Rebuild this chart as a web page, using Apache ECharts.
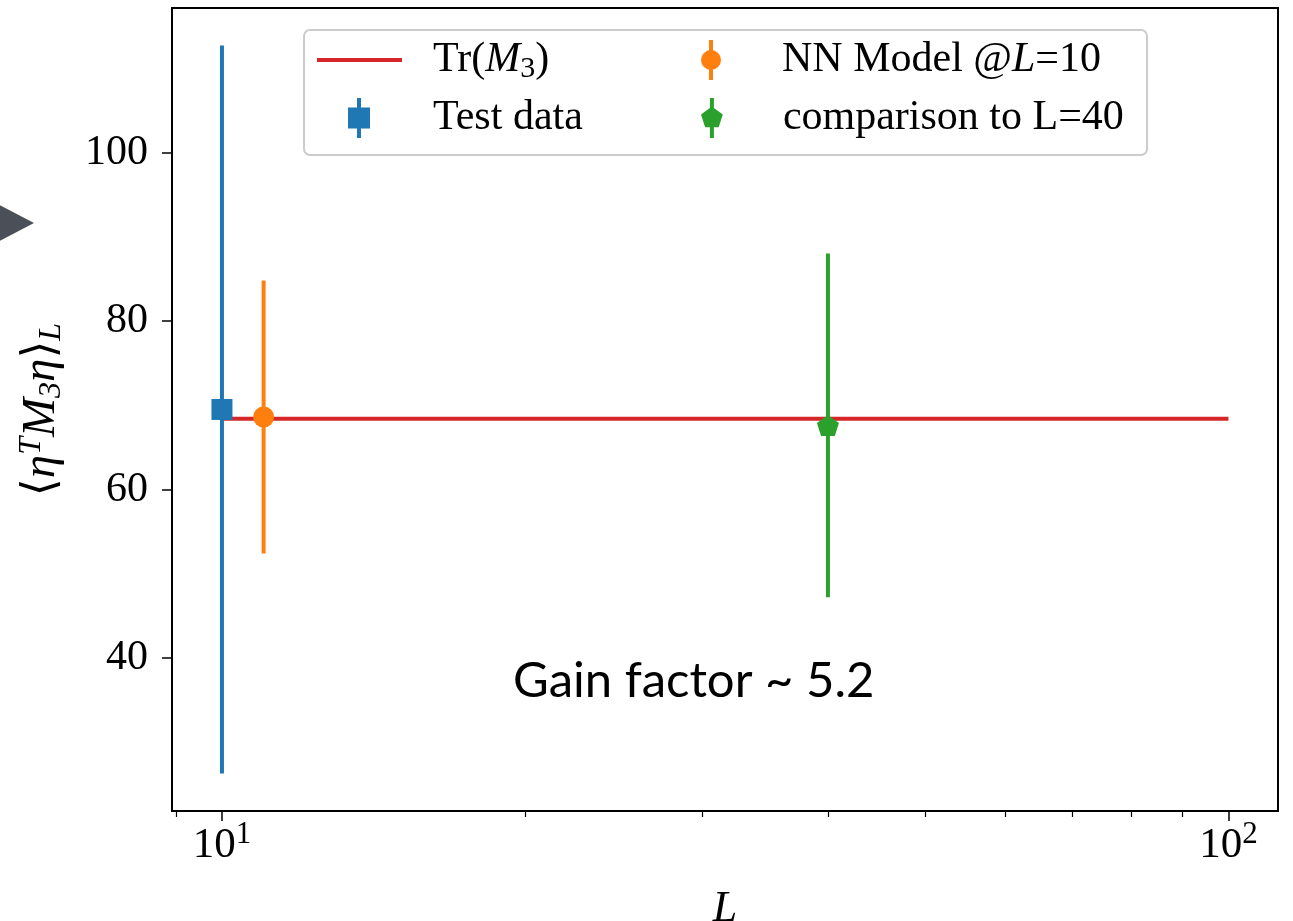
<!DOCTYPE html>
<html>
<head>
<meta charset="utf-8">
<script src="https://cdn.jsdelivr.net/npm/echarts@6/dist/echarts.min.js"></script>
<style>
  html, body { margin: 0; padding: 0; background: #fff; }
  #chart { width: 1293px; height: 921px; }
</style>
</head>
<body>
<div id="chart"></div>
<script>
// values
const trX = [10, 100];
const trY = [68.4, 68.4];

const testX = [10];
const testY = [69.5];
const testErr = [43.2];

const nnX = [11];
const nnY = [68.6];
const nnErr = [16.2];

const cmpX = [40];
const cmpY = [67.6];
const cmpErr = [20.4];

const xMajorTicks = [10, 100];
const xMinorTicks = [9, 20, 30, 40, 50, 60, 70, 80, 90];
const yTicks = [40, 60, 80, 100];

const names = ["Tr(M3)", "Test data", "NN Model @L=10", "comparison to L=40"];
const colors = { red: "#d62728", blue: "#1f77b4", orange: "#ff7f0e", green: "#2ca02c" };

const serif = "'Liberation Serif', 'DejaVu Serif', serif";
const pentagon = "path://M11,0 L21.9,7.9 L17.8,20.8 L4.2,20.8 L0.1,7.9 Z";

const zip = (xs, ys, es) => xs.map((x, i) => es ? [x, ys[i], es[i]] : [x, ys[i]]);

const errorSeries = (name, xs, ys, es, color) => ({
  name: name,
  type: "custom",
  z: 3,
  data: zip(xs, ys, es),
  encode: { x: 0, y: 1 },
  renderItem: (params, api) => {
    const x = api.value(0), y = api.value(1), e = api.value(2);
    const top = api.coord([x, y + e]);
    const bot = api.coord([x, y - e]);
    return {
      type: "line",
      shape: { x1: top[0], y1: top[1], x2: bot[0], y2: bot[1] },
      style: { stroke: color, lineWidth: 4 }
    };
  }
});

const markerSeries = (name, xs, ys, symbol, size, color) => ({
  name: name,
  type: "scatter",
  z: 4,
  symbol: symbol,
  symbolSize: size,
  itemStyle: { color: color, opacity: 1 },
  data: zip(xs, ys)
});

const legendText = {
  fontFamily: serif,
  fontSize: 42,
  color: "#000",
  lineHeight: 40,
  rich: {
    r: { fontFamily: serif, fontSize: 42, color: "#000", lineHeight: 48 },
    i: { fontFamily: serif, fontSize: 42, fontStyle: "italic", color: "#000", lineHeight: 48 },
    s: { fontFamily: serif, fontSize: 30, color: "#000", verticalAlign: "bottom", lineHeight: 30 }
  }
};

const legendFormatter = (n) => {
  if (n === names[0]) return "{r|Tr(}{i|M}{s|3}{r|)}";
  if (n === names[2]) return "{r|NN Model @}{i|L}{r|=10}";
  return "{r|" + n + "}";
};

const makeLegend = (name, left, top, w, h, icon, color, padLeft) => ({
  z: 20,
  data: [{ name: name, icon: icon, itemStyle: { color: color } }],
  left: left,
  top: top,
  padding: 0,
  itemWidth: w,
  itemHeight: h,
  selectedMode: false,
  formatter: legendFormatter,
  textStyle: Object.assign({}, legendText, { padding: [0, 0, 0, padLeft] })
});

const chart = echarts.init(document.getElementById("chart"));

chart.setOption({
  backgroundColor: "#fff",
  animation: false,
  grid: {
    left: 172, right: 15, top: 8, bottom: 110,
    show: true, borderColor: "#000", borderWidth: 2,
    outerBoundsMode: "none"
  },
  xAxis: [
    {
      type: "log",
      logBase: 10,
      min: 8.92,
      max: 112,
      name: "L",
      nameLocation: "middle",
      nameGap: 76,
      nameTextStyle: { fontFamily: serif, fontSize: 44, fontStyle: "italic", color: "#000" },
      axisLine: { show: true, onZero: false, lineStyle: { color: "#000", width: 2 } },
      axisTick: { show: true, customValues: xMajorTicks, length: 10, lineStyle: { color: "#000", width: 1.5 } },
      axisLabel: {
        show: true,
        customValues: xMajorTicks,
        margin: 8,
        formatter: (v) => "{b|10}{s|" + Math.round(Math.log10(v)) + "}",
        rich: {
          b: { fontFamily: serif, fontSize: 43, color: "#000", lineHeight: 54 },
          s: { fontFamily: serif, fontSize: 31, color: "#000", verticalAlign: "top", lineHeight: 31 }
        }
      },
      splitLine: { show: false },
      minorTick: { show: false }
    },
    {
      type: "log",
      logBase: 10,
      min: 8.92,
      max: 112,
      position: "bottom",
      axisLine: { show: false },
      axisTick: { show: true, customValues: xMinorTicks, length: 6, lineStyle: { color: "#000", width: 1.2 } },
      axisLabel: { show: false },
      splitLine: { show: false }
    }
  ],
  yAxis: {
    type: "value",
    min: 21.84,
    max: 117.15,
    name: "{a|⟨}{i|η}{sup|T}{i|M}{sub|3}{i|η}{a|⟩}{sub|L}",
    nameLocation: "middle",
    nameRotate: 90,
    nameGap: 104,
    nameTextStyle: {
      fontFamily: serif, fontSize: 46, color: "#000",
      rich: {
        a: { fontFamily: "'DejaVu Serif', serif", fontSize: 46, color: "#000", lineHeight: 52 },
        i: { fontFamily: serif, fontSize: 47, fontStyle: "italic", color: "#000", lineHeight: 52 },
        sup: { fontFamily: serif, fontSize: 32, fontStyle: "italic", color: "#000", verticalAlign: "top", lineHeight: 32 },
        sub: { fontFamily: serif, fontSize: 32, fontStyle: "italic", color: "#000", verticalAlign: "bottom", lineHeight: 32 }
      }
    },
    axisLine: { show: true, onZero: false, lineStyle: { color: "#000", width: 2 } },
    axisTick: { show: true, customValues: yTicks, length: 10, lineStyle: { color: "#000", width: 1.5 } },
    axisLabel: { customValues: yTicks, margin: 24, fontFamily: serif, fontSize: 42, color: "#000" },
    splitLine: { show: false }
  },
  legend: [
    makeLegend(names[0], 317, 36, 85, 4, "rect", colors.red, 26),
    makeLegend(names[1], 348, 94, 22, 40, "path://M9,0h4v40h-4z M0,9.5h22v21h-22z", colors.blue, 58),
    makeLegend(names[2], 701, 36, 22, 40, "path://M9,0h4v40h-4z M1,20a10,10 0 1,1 20,0a10,10 0 1,1 -20,0z", colors.orange, 55),
    makeLegend(names[3], 701, 94, 22, 40, "path://M9,0h4v40h-4z M11,8.5L21.9,16.4L17.8,29.3L4.2,29.3L0.1,16.4z", colors.green, 55)
  ],
  graphic: [
    {
      type: "rect",
      z: 5,
      shape: { x: 304, y: 30, width: 843, height: 125, r: 6 },
      style: { fill: "rgba(255,255,255,0.8)", stroke: "#cccccc", lineWidth: 2 }
    },
    {
      type: "polygon",
      shape: { points: [[-12, 199], [34, 223], [-12, 247]] },
      style: { fill: "#4b5058" }
    },
    {
      type: "text",
      left: 513,
      top: 657,
      style: { text: "Gain factor ~ 5.2", font: "49px Lato, 'Open Sans', sans-serif", fill: "#000" }
    }
  ],
  series: [
    {
      name: names[0],
      type: "line",
      z: 2,
      symbol: "none",
      lineStyle: { color: colors.red, width: 4 },
      itemStyle: { color: colors.red },
      data: zip(trX, trY)
    },
    errorSeries(names[1], testX, testY, testErr, colors.blue),
    markerSeries(names[1], testX, testY, "rect", 21, colors.blue),
    errorSeries(names[2], nnX, nnY, nnErr, colors.orange),
    markerSeries(names[2], nnX, nnY, "circle", 21, colors.orange),
    errorSeries(names[3], cmpX, cmpY, cmpErr, colors.green),
    markerSeries(names[3], cmpX, cmpY, pentagon, [22, 21], colors.green)
  ]
});
</script>
</body>
</html>
